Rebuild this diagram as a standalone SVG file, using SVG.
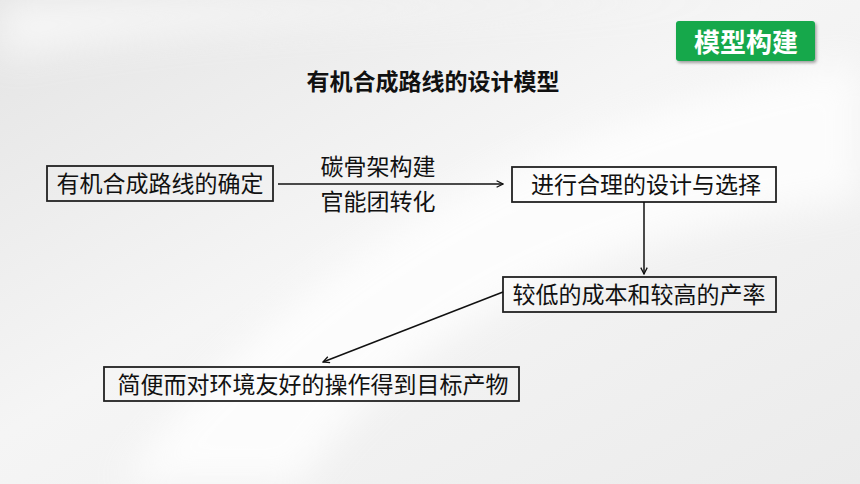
<svg xmlns="http://www.w3.org/2000/svg" width="860" height="484" viewBox="0 0 860 484">
<defs>
<linearGradient id="bg" x1="0" y1="0" x2="1" y2="1">
<stop offset="0" stop-color="#e4e4e4"/>
<stop offset="0.45" stop-color="#f5f5f5"/>
<stop offset="1" stop-color="#ebebeb"/>
</linearGradient>
<filter id="blur" x="-20%" y="-20%" width="140%" height="140%">
<feGaussianBlur stdDeviation="18"/>
</filter>
<filter id="sh" x="-10%" y="-20%" width="130%" height="150%">
<feDropShadow dx="1.5" dy="2" stdDeviation="1.5" flood-color="#000" flood-opacity="0.35"/>
</filter>
<marker id="ah" viewBox="0 0 10 10" refX="9" refY="5" markerWidth="8" markerHeight="8" markerUnits="userSpaceOnUse" orient="auto">
<path d="M1,1 L9,5 L1,9" fill="none" stroke="#111" stroke-width="1.6"/>
</marker>
<style>
.box{fill:none;stroke:#222;stroke-width:1.8}
.t{font-family:"Noto Sans CJK SC","Noto Sans",sans-serif;font-size:23px;fill:#111;text-anchor:middle}
.c{fill:none;stroke:#111;stroke-width:1.5;marker-end:url(#ah)}
</style>
</defs>
<rect width="860" height="484" fill="url(#bg)"/>
<g filter="url(#blur)" opacity="0.8">
<path d="M120,484 C250,300 500,120 860,60 L860,200 C600,230 400,330 300,484 Z" fill="#ffffff"/>
<path d="M0,60 C200,20 500,10 760,0 L0,0 Z" fill="#fafafa"/>
</g>

<g id="badge">
<rect x="676" y="21" width="139" height="40" rx="3" fill="#12a84c" filter="url(#sh)"/>
<text x="746" y="52" font-family="'Noto Sans CJK SC',sans-serif" font-size="26" font-weight="bold" fill="#fff" text-anchor="middle">模型构建</text>
</g>

<g id="title">
<text x="433" y="90" class="t" font-weight="bold">有机合成路线的设计模型</text>
</g>

<g id="n1">
<rect class="box" x="47" y="166" width="226" height="35"/>
<text class="t" x="160" y="192">有机合成路线的确定</text>
</g>
<g id="n2">
<rect class="box" x="512" y="167" width="264" height="35"/>
<text class="t" x="646" y="193">进行合理的设计与选择</text>
</g>
<g id="n3">
<rect class="box" x="503" y="277" width="273" height="35"/>
<text class="t" x="639" y="303">较低的成本和较高的产率</text>
</g>
<g id="n4">
<rect class="box" x="104" y="367" width="415" height="34"/>
<text class="t" x="313" y="393">简便而对环境友好的操作得到目标产物</text>
</g>

<g id="connectors">
<line class="c" x1="278" y1="184" x2="503" y2="184"/>
<text class="t" x="378" y="175">碳骨架构建</text>
<text class="t" x="378" y="210">官能团转化</text>
<line class="c" x1="644" y1="202" x2="644" y2="274"/>
<line class="c" x1="503" y1="292" x2="323" y2="362"/>
</g>
</svg>
